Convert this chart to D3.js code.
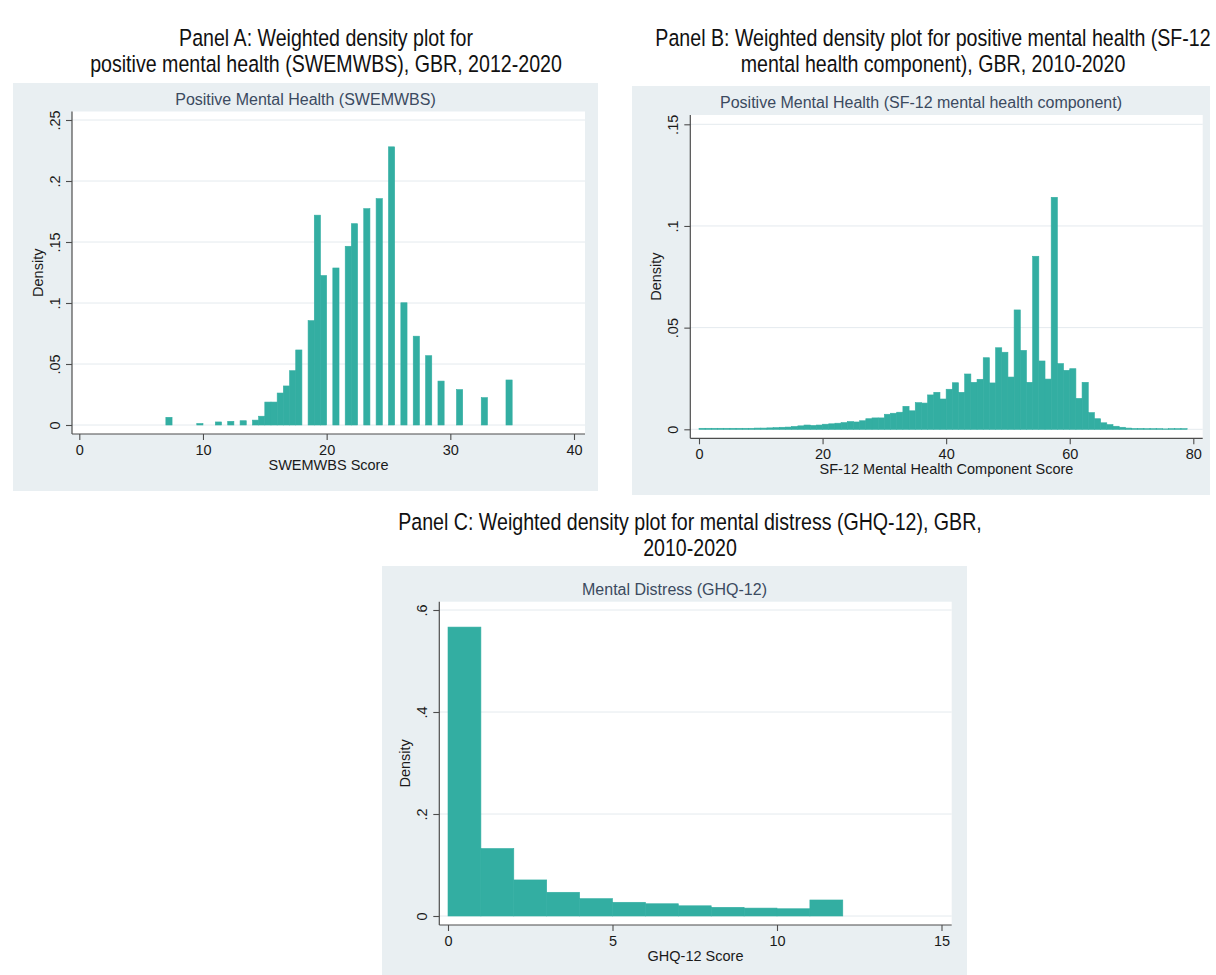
<!DOCTYPE html>
<html>
<head>
<meta charset="utf-8">
<script src="https://cdn.jsdelivr.net/npm/d3@7"></script>
<style>
  html, body { margin: 0; padding: 0; background: #ffffff; }
  svg { display: block; }
  text { font-family: "Liberation Sans", Arial, sans-serif; }
</style>
</head>
<body>
<svg id="chart" width="1216" height="975"></svg>
<script>
// ---- Panel A: SWEMWBS metric score, histogram bins of width 0.5 ----
const swemwbsBinWidth = 0.5;
const swemwbsBinStart = [7, 9.5, 11, 12, 13, 14, 14.5, 15, 15.5, 16, 16.5, 17, 17.5,
  18.5, 19, 19.5, 20.5, 21.5, 22, 23, 24, 25, 26, 27, 28, 29, 30.5, 32.5, 34.5];
const swemwbsDensity = [0.0063, 0.0012, 0.0025, 0.0030, 0.0035, 0.0040, 0.0072, 0.0188, 0.0188,
  0.0262, 0.0320, 0.0445, 0.0615, 0.0855, 0.1720, 0.1225, 0.1287, 0.1465, 0.1650, 0.1773,
  0.1855, 0.2280, 0.1002, 0.0728, 0.0568, 0.0360, 0.0290, 0.0224, 0.0369];
const swemwbsXTicks = [0, 10, 20, 30, 40];
const swemwbsYTicks = [0, 0.05, 0.1, 0.15, 0.2, 0.25];
const swemwbsYLabels = ["0", ".05", ".1", ".15", ".2", ".25"];

// ---- Panel B: SF-12 mental component score, bins of width 1 starting at 0 ----
const sf12BinWidth = 1;
const sf12FirstBin = 0;
const sf12Density = [
  0.0005, 0.0005, 0.0005, 0.0005, 0.0005, 0.0005, 0.0005, 0.0005, 0.0005, 0.0006,
  0.0006, 0.0007, 0.0008, 0.0010, 0.0011, 0.0014, 0.0017, 0.0021, 0.0019, 0.0021,
  0.0025, 0.0027, 0.0030, 0.0033, 0.0038, 0.0036, 0.0042, 0.0052, 0.0056, 0.0056,
  0.0074, 0.0079, 0.0084, 0.0113, 0.0091, 0.0131, 0.0129, 0.0169, 0.0182, 0.0149,
  0.0197, 0.0229, 0.0182, 0.0272, 0.0231, 0.0246, 0.0352, 0.0228, 0.0401, 0.0379,
  0.0257, 0.0587, 0.0388, 0.0231, 0.0851, 0.0336, 0.0247, 0.1141, 0.0323, 0.0290,
  0.0298, 0.0152, 0.0231, 0.0082, 0.0052, 0.0032, 0.0023, 0.0015, 0.0010, 0.0006,
  0.0004, 0.0004, 0.0003, 0.0003, 0.0003, 0.0002, 0.0003, 0.0003, 0.0003];
const sf12XTicks = [0, 20, 40, 60, 80];
const sf12YTicks = [0, 0.05, 0.1, 0.15];
const sf12YLabels = ["0", ".05", ".1", ".15"];

// ---- Panel C: GHQ-12 caseness score, one bin per point ----
const ghqBinWidth = 1;
const ghqFirstBin = 0;
const ghqDensity = [0.5665, 0.1323, 0.0707, 0.0465, 0.0340, 0.0269, 0.0240, 0.0200,
  0.0170, 0.0155, 0.0142, 0.0314];
const ghqXTicks = [0, 5, 10, 15];
const ghqYTicks = [0, 0.2, 0.4, 0.6];
const ghqYLabels = ["0", ".2", ".4", ".6"];

// ---- Text ----
const headingA = ["Panel A: Weighted density plot for", "positive mental health (SWEMWBS), GBR, 2012-2020"];
const headingB = ["Panel B: Weighted density plot for positive mental health (SF-12", "mental health component), GBR, 2010-2020"];
const headingC = ["Panel C: Weighted density plot for mental distress (GHQ-12), GBR,", "2010-2020"];

const BAR = "#33aea2";
const REGION = "#e9eff2";
const GRID = "#e4eaee";
const AXIS = "#4d4d4d";
const TITLE = "#3b4a60";

const svg = d3.select("#chart");

// Condensed heading: regular sans squeezed horizontally
function heading(lines, cx, y0) {
  lines.forEach((s, i) => {
    svg.append("text")
      .attr("transform", `translate(${cx},${y0 + i * 25.5}) scale(0.835,1)`)
      .attr("text-anchor", "middle").attr("fill", "#111")
      .style("font-size", "23.5px").text(s);
  });
}

function panel(cfg) {
  const g = svg.append("g");
  // graph region and plot region
  g.append("rect").attr("x", cfg.box[0]).attr("y", cfg.box[1])
    .attr("width", cfg.box[2] - cfg.box[0]).attr("height", cfg.box[3] - cfg.box[1])
    .attr("fill", REGION);
  g.append("rect").attr("x", cfg.left).attr("y", cfg.top)
    .attr("width", cfg.right - cfg.left).attr("height", cfg.bottom - cfg.top)
    .attr("fill", "#ffffff");

  const x = d3.scaleLinear().domain(cfg.xDomain).range(cfg.xRange);
  const y = d3.scaleLinear().domain(cfg.yDomain).range(cfg.yRange);

  // horizontal grid
  g.append("g").selectAll("line").data(cfg.yTicks).join("line")
    .attr("x1", cfg.left).attr("x2", cfg.right)
    .attr("y1", d => y(d)).attr("y2", d => y(d))
    .attr("stroke", GRID).attr("stroke-width", 1);

  // histogram bars
  g.append("g").selectAll("rect").data(cfg.bins).join("rect")
    .attr("x", d => x(d.x0))
    .attr("width", d => x(d.x0 + cfg.binWidth) - x(d.x0))
    .attr("y", d => y(d.density))
    .attr("height", d => y(0) - y(d.density))
    .attr("fill", BAR).attr("stroke", BAR).attr("stroke-width", 0.6);

  // axis lines
  g.append("line").attr("x1", cfg.left).attr("x2", cfg.right)
    .attr("y1", cfg.bottom).attr("y2", cfg.bottom).attr("stroke", AXIS).attr("stroke-width", 1.2);
  g.append("line").attr("x1", cfg.left).attr("x2", cfg.left)
    .attr("y1", cfg.top).attr("y2", cfg.bottom).attr("stroke", AXIS).attr("stroke-width", 1.2);

  // x axis ticks and labels
  const xa = g.append("g").attr("transform", `translate(0,${cfg.bottom})`)
    .call(d3.axisBottom(x).tickValues(cfg.xTicks).tickSize(6).tickFormat(d3.format("d")));
  xa.select(".domain").remove();
  xa.selectAll(".tick line").attr("stroke", AXIS).attr("stroke-width", 1.1);
  xa.selectAll(".tick text").attr("y", 20.5).attr("dy", 0)
    .attr("fill", "#1a1a1a").style("font-size", "14.5px").style("font-family", "Liberation Sans, Arial, sans-serif");

  // y axis ticks and rotated labels
  const ya = g.append("g").attr("transform", `translate(${cfg.left},0)`)
    .call(d3.axisLeft(y).tickValues(cfg.yTicks).tickSize(6).tickFormat((d, i) => cfg.yLabels[i]));
  ya.select(".domain").remove();
  ya.selectAll(".tick line").attr("stroke", AXIS).attr("stroke-width", 1.1);
  ya.selectAll(".tick text").attr("transform", "rotate(-90)")
    .attr("x", 0).attr("y", -12).attr("dy", 0).attr("text-anchor", "middle")
    .attr("fill", "#1a1a1a").style("font-size", "14.5px").style("font-family", "Liberation Sans, Arial, sans-serif");

  // titles
  const boxCx = (cfg.box[0] + cfg.box[2]) / 2;
  g.append("text").attr("x", boxCx).attr("y", cfg.titleY).attr("text-anchor", "middle")
    .attr("fill", TITLE).style("font-size", "16px").text(cfg.title);
  g.append("text").attr("x", (cfg.left + cfg.right) / 2).attr("y", cfg.bottom + 36)
    .attr("text-anchor", "middle").attr("fill", "#1a1a1a").style("font-size", "14.5px").text(cfg.xTitle);
  g.append("text").attr("transform", `translate(${cfg.left - 29.5},${(cfg.top + cfg.bottom) / 2}) rotate(-90)`)
    .attr("text-anchor", "middle").attr("fill", "#1a1a1a").style("font-size", "14.5px").text("Density");
}

heading(headingA, 326, 46);
heading(headingB, 933, 46);
heading(headingC, 690, 530);

panel({
  box: [13, 83, 598, 491], left: 72, right: 585, top: 111.5, bottom: 434,
  xDomain: [0, 40], xRange: [79.3, 574], yDomain: [0, 0.25], yRange: [425, 120],
  binWidth: swemwbsBinWidth,
  bins: swemwbsBinStart.map((s, i) => ({ x0: s, density: swemwbsDensity[i] })),
  xTicks: swemwbsXTicks, yTicks: swemwbsYTicks, yLabels: swemwbsYLabels,
  title: "Positive Mental Health (SWEMWBS)", titleY: 105, xTitle: "SWEMWBS Score"
});

panel({
  box: [632, 86, 1210, 495], left: 690.3, right: 1202.7, top: 115, bottom: 438.3,
  xDomain: [0, 80], xRange: [699, 1193.3], yDomain: [0, 0.15], yRange: [429.3, 124.3],
  binWidth: sf12BinWidth,
  bins: sf12Density.map((d, i) => ({ x0: sf12FirstBin + i * sf12BinWidth, density: d })),
  xTicks: sf12XTicks, yTicks: sf12YTicks, yLabels: sf12YLabels,
  title: "Positive Mental Health (SF-12 mental health component)", titleY: 108,
  xTitle: "SF-12 Mental Health Component Score"
});

panel({
  box: [382, 566, 967, 975], left: 439.3, right: 951.7, top: 601.7, bottom: 925,
  xDomain: [0, 15], xRange: [448, 941.5], yDomain: [0, 0.6], yRange: [916, 610],
  binWidth: ghqBinWidth,
  bins: ghqDensity.map((d, i) => ({ x0: ghqFirstBin + i * ghqBinWidth, density: d })),
  xTicks: ghqXTicks, yTicks: ghqYTicks, yLabels: ghqYLabels,
  title: "Mental Distress (GHQ-12)", titleY: 595, xTitle: "GHQ-12 Score"
});
</script>
</body>
</html>
